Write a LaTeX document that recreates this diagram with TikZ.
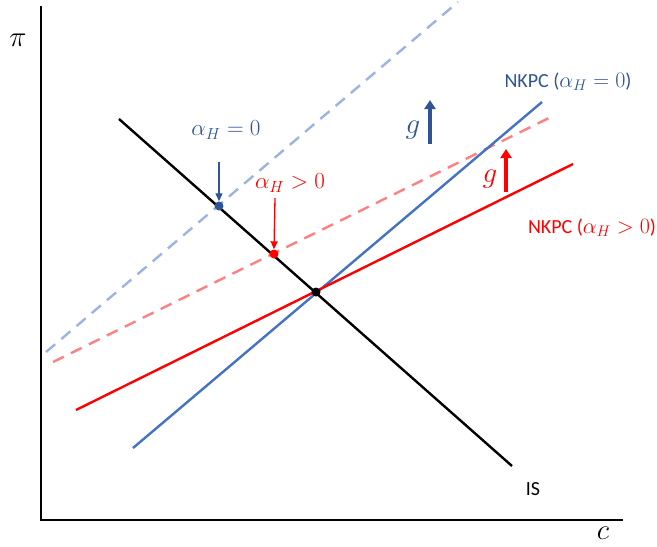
\documentclass[tikz,border=0pt]{standalone}
\usepackage{fontspec}
\usepackage{fix-cm}
\setmainfont{Carlito}
\usetikzlibrary{arrows.meta}
\definecolor{bl}{HTML}{4472C4}
\definecolor{dbl}{HTML}{2F5597}
\definecolor{lightbl}{HTML}{9DB3E0}
\definecolor{rd}{HTML}{FF0000}
\definecolor{lightrd}{HTML}{FF8080}
\tikzset{
  curve/.style={line width=2.4pt},
  dashcurve/.style={line width=2.4pt, dash pattern=on 12pt off 8pt},
  axis/.style={line width=1.8pt, black},
  dot/.style={circle, fill=#1, inner sep=0pt, minimum size=9pt},
  ptr/.style={line width=1.3pt, -{Triangle[width=7pt,length=8pt]}},
  shift arrow/.style={line width=4.5pt, -{Triangle[width=11pt,length=9pt]}},
  txt/.style={font=\fontsize{20}{24}\selectfont, inner sep=0pt},
  mlbl/.style={font=\fontsize{23}{27}\selectfont, inner sep=0pt},
  big/.style={font=\fontsize{29}{32}\selectfont, inner sep=0pt},
}
\newcommand\mathsz{\fontsize{22}{26}\selectfont}
\newcommand\txtsz{\fontsize{20}{24}\selectfont}
\begin{document}
\begin{tikzpicture}[x=1pt,y=-1pt]
\useasboundingbox (0,0) rectangle (657,547);
% axes
\coordinate (O) at (41,520);
\coordinate (Ytop) at (41,6);
\coordinate (Xend) at (623,520);
\draw[axis] (Ytop) -- (O) -- (Xend);
\node[big] (pi) at (18,40) {$\pi$};
\node[big] (c) at (603,533) {$c$};
% dashed shifted curves
\coordinate (bd1) at (46,352);
\coordinate (bd2) at (458,2);
\draw[dashcurve, lightbl] (bd1) -- (bd2);
\coordinate (rd1) at (53,362);
\coordinate (rd2) at (553,116);
\draw[dashcurve, lightrd] (rd1) -- (rd2);
% solid curves
\coordinate (b1) at (133,448);
\coordinate (b2) at (542,102);
\draw[curve, bl] (b1) -- (b2);
\coordinate (r1) at (76,410);
\coordinate (r2) at (573,164);
\draw[curve, rd] (r1) -- (r2);
\coordinate (is1) at (119,119);
\coordinate (is2) at (512,466);
\draw[curve, black] (is1) -- (is2);
% dots
\node[dot=black] (E) at (316,292) {};
\node[dot=dbl] (Eb) at (219,206) {};
\node[dot=rd] (Er) at (274,254) {};
% labels with pointers
\node[mlbl, text=dbl] (lb) at (226,130) {$\alpha_H = 0$};
\coordinate (lbs) at (219,162);
\draw[ptr, dbl] (lbs) -- (Eb.north);
\node[mlbl, text=rd] (lr) at (290,183) {$\alpha_H > 0$};
\coordinate (lrs) at (275,198);
\draw[ptr, rd] (lrs) -- (Er.north);
% shift arrows
\coordinate (gb1) at (430,144);
\coordinate (gb2) at (430,100);
\draw[shift arrow, dbl] (gb1) -- (gb2);
\node[big, text=dbl] (gb) at (413,130) {$g$};
\coordinate (gr1) at (506,192);
\coordinate (gr2) at (506,149);
\draw[shift arrow, rd] (gr1) -- (gr2);
\node[big, text=rd] (gr) at (490,179) {$g$};
% curve labels
\node[txt, text=dbl] (nb) at (568,82) {NKPC (\mathsz$\alpha_H = 0$\txtsz)};
\node[txt, text=rd] (nr) at (592,228) {NKPC (\mathsz$\alpha_H > 0$\txtsz)};
\node[txt] (is) at (533,489) {IS};
\end{tikzpicture}
\end{document}
